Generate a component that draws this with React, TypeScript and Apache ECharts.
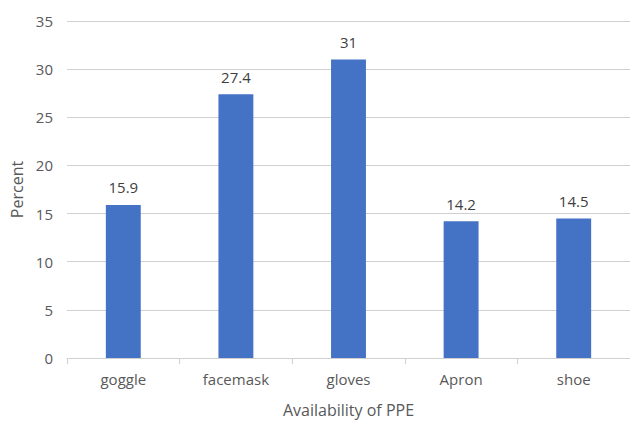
import React, { useEffect, useRef } from "react";
import * as echarts from "echarts";

const categories = ["goggle", "facemask", "gloves", "Apron", "shoe"];
const values = [15.9, 27.4, 31, 14.2, 14.5];
const yTicks = { min: 0, max: 35, interval: 5 };
const xAxisName = "Availability of PPE";
const yAxisName = "Percent";

const FONT = "'Open Sans', 'Noto Sans', sans-serif";

export default function App() {
  const ref = useRef<HTMLDivElement>(null);
  useEffect(() => {
    if (!ref.current) return;
    const chart = echarts.init(ref.current, null, { renderer: "svg" });
    chart.setOption({
      animation: false,
      backgroundColor: "#ffffff",
      grid: { left: 67, right: -2, top: 21, bottom: 66, containLabel: false },
      xAxis: {
        type: "category",
        data: categories,
        name: xAxisName,
        nameLocation: "middle",
        nameGap: 44,
        nameTextStyle: { color: "#595959", fontSize: 16, fontFamily: FONT },
        axisLine: { show: true, lineStyle: { color: "#d0d0d0", width: 1 } },
        axisTick: { show: true, length: 6, alignWithLabel: false, lineStyle: { color: "#d0d0d0" } },
        axisLabel: { color: "#595959", fontSize: 15, fontFamily: FONT, margin: 13 },
      },
      yAxis: {
        type: "value",
        min: yTicks.min,
        max: yTicks.max,
        interval: yTicks.interval,
        name: yAxisName,
        nameLocation: "middle",
        nameGap: 42,
        nameTextStyle: { color: "#595959", fontSize: 16, fontFamily: FONT },
        axisLine: { show: false },
        axisTick: { show: false },
        axisLabel: { color: "#595959", fontSize: 15, fontFamily: FONT, margin: 14 },
        splitLine: { show: true, lineStyle: { color: "#d0d0d0", width: 1 } },
      },
      series: [
        {
          type: "bar",
          data: values,
          barWidth: "31%",
          itemStyle: { color: "#4472C4" },
          label: {
            show: true,
            position: "top",
            distance: 10,
            color: "#404040",
            fontSize: 15,
            fontFamily: FONT,
          },
        },
      ],
    });
    return () => chart.dispose();
  }, []);
  return <div ref={ref} style={{ width: 630, height: 424, position: "absolute", left: 0, top: 0 }} />;
}
